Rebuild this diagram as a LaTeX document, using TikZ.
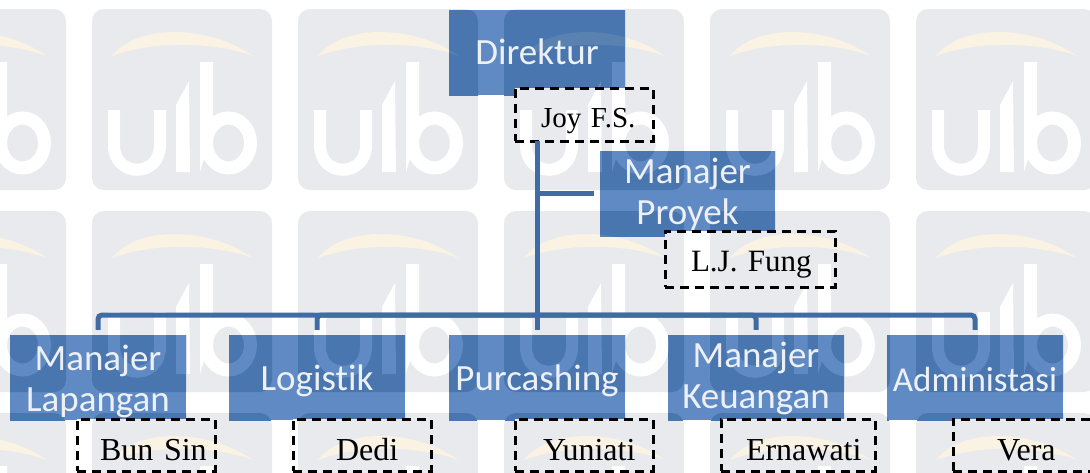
\documentclass[tikz,border=0pt]{standalone}
\usepackage{fontspec}
\newfontfamily\boxfont[Ligatures={NoCommon,NoContextual}]{Carlito}
\newfontfamily\namefont[WordSpace=0.7]{Liberation Serif}
\tikzset{
  x=1pt,y=-1pt,
  orgbox/.style={anchor=center,text=boxtext,align=center,inner sep=0pt,font=\boxfont\fontsize{37}{41}\selectfont},
  namebox/.style={draw=black,line width=3pt,dash pattern=on 9pt off 6pt,anchor=north west,inner xsep=0pt,inner ysep=0pt,outer sep=0pt,align=left,text depth=0pt,font=\namefont\fontsize{32}{34}\selectfont},
  conn/.style={draw=connblue,line width=5pt,rounded corners=4pt}
}
\definecolor{boxtext}{HTML}{EDF1F6}
\definecolor{connblue}{HTML}{406CA6}
\definecolor{pgtile}{HTML}{E8EAED}
\definecolor{pgarc}{HTML}{FAF3E3}
\definecolor{bltile}{HTML}{4A76B0}
\definecolor{bllet}{HTML}{5F8AC4}
\definecolor{blarc}{HTML}{5A82B0}
% one watermark layer: #1 tile, #2 letters, #3 arc
\newcommand{\wmlayer}[3]{%
  \foreach \ox in {-114,92,298,504,710,916}{%
    \foreach \oy in {9,211,413}{%
      \begin{scope}[shift={(\ox,\oy)}]
        \fill[#1,rounded corners=12pt] (0,0) rectangle (180,181);
        \fill[#3] (20,47) .. controls (45,15) and (115,15) .. (161,47)
                  .. controls (120,32) and (60,32) .. (20,47) -- cycle;
        \draw[#2,line width=12pt] (22,101) -- (22,136) .. controls (22,169) and (68,169) .. (68,136) -- (68,101);
        \fill[#2] (84,96) -- (97,72) -- (98,163) -- (84,163) -- cycle;
        \fill[#2] (108,53) -- (121,53) -- (121,120) -- (108,163) -- cycle;
        \draw[#2,line width=13pt] (136.5,134) circle[x radius=22pt,y radius=25pt];
      \end{scope}
    }%
  }%
}
\newcommand{\wmclip}[7]{%
  \begin{scope}
    \clip (#1,#2) rectangle (#3,#4);
    \wmlayer{#5}{#6}{#7}
  \end{scope}
}
\newcommand{\bluefill}[4]{%
  \fill[bllet] (#1,#2) rectangle (#3,#4);
  \wmclip{#1}{#2}{#3}{#4}{bltile}{bllet}{blarc}
}
\newcommand{\eraser}[4]{%
  \fill[white] (#1,#2) rectangle (#3,#4);
  \wmclip{#1}{#2}{#3}{#4}{pgtile}{white}{pgarc}
}
\begin{document}
\begin{tikzpicture}
\useasboundingbox (0,0) rectangle (1090,472);
\fill[white] (0,0) rectangle (1090,472);
\wmlayer{pgtile}{white}{pgarc}
% blue box fills
\bluefill{449}{10}{625}{95}
\bluefill{600}{151}{775}{236}
\bluefill{10}{335}{186}{420}
\bluefill{229}{335}{405}{420}
\bluefill{449}{335}{625}{420}
\bluefill{668}{335}{844}{420}
\bluefill{887}{335}{1063}{420}
% dashed box interiors
\eraser{515}{88}{653}{141}
\eraser{665}{231}{835}{287}
\eraser{77}{419}{215}{471}
\eraser{293}{419}{431}{471}
\eraser{515}{419}{653}{471}
\eraser{721}{419}{875}{471}
\eraser{953}{419}{1093}{471}
% nodes
\node[orgbox,minimum width=176pt,minimum height=85pt] (dir) at (537,51.5) {Direktur};
\node[orgbox,minimum width=175pt,minimum height=85pt] (pro) at (687.5,194.5) {Manajer\\Proyek};
\node[orgbox,minimum width=176pt,minimum height=85pt] (lap) at (98,381) {Manajer\\Lapangan};
\node[orgbox,minimum width=176pt,minimum height=85pt] (log) at (317,380.5) {Logistik};
\node[orgbox,minimum width=176pt,minimum height=85pt] (pur) at (537,380.5) {Purcashing};
\node[orgbox,minimum width=176pt,minimum height=85pt] (keu) at (756,378.5) {Manajer\\Keuangan};
\node[orgbox,minimum width=176pt,minimum height=85pt,font=\boxfont\fontsize{35}{41}\selectfont] (adm) at (975,379.5) {Administasi};
\node[namebox,text width=138pt,minimum height=53pt,text height=25pt,font=\namefont\fontsize{29}{32}\selectfont] (joy) at (515,88) {\hspace*{26pt}Joy F.S.};
\node[namebox,text width=170pt,minimum height=56pt,text height=24pt,font=\namefont\fontsize{31}{32}\selectfont] (fung) at (665,231) {\hspace*{26pt}L.J. Fung};
\node[namebox,text width=138pt,minimum height=52pt,text height=31pt] (bun) at (77,419) {\hspace*{23pt}Bun Sin};
\node[namebox,text width=138pt,minimum height=52pt,text height=31pt] (ded) at (293,419) {\hspace*{43pt}Dedi};
\node[namebox,text width=138pt,minimum height=52pt,text height=31pt] (yun) at (515,419) {\hspace*{28pt}Yuniati};
\node[namebox,text width=154pt,minimum height=52pt,text height=31pt] (ern) at (721,419) {\hspace*{25pt}Ernawati};
\node[namebox,text width=140pt,minimum height=52pt,text height=31pt] (ver) at (953,419) {\hspace*{44pt}Vera};
% connectors
\coordinate (branch) at (537,193);
\coordinate (bus) at (537,315);
\draw[conn] (joy.south -| pur.north) -- (branch) -- (bus);
\draw[conn,shorten >=6pt] (branch) -- (pro.west |- branch);
\draw[conn,shorten >=8pt] (bus) -- (pur.north);
\draw[conn,shorten >=8.5pt] (bus) -| (lap.north);
\draw[conn,shorten >=8pt] (bus) -| (log.north);
\draw[conn,shorten >=6pt] (bus) -| (keu.north);
\draw[conn,shorten >=7pt] (bus) -| (adm.north);
\end{tikzpicture}
\end{document}
